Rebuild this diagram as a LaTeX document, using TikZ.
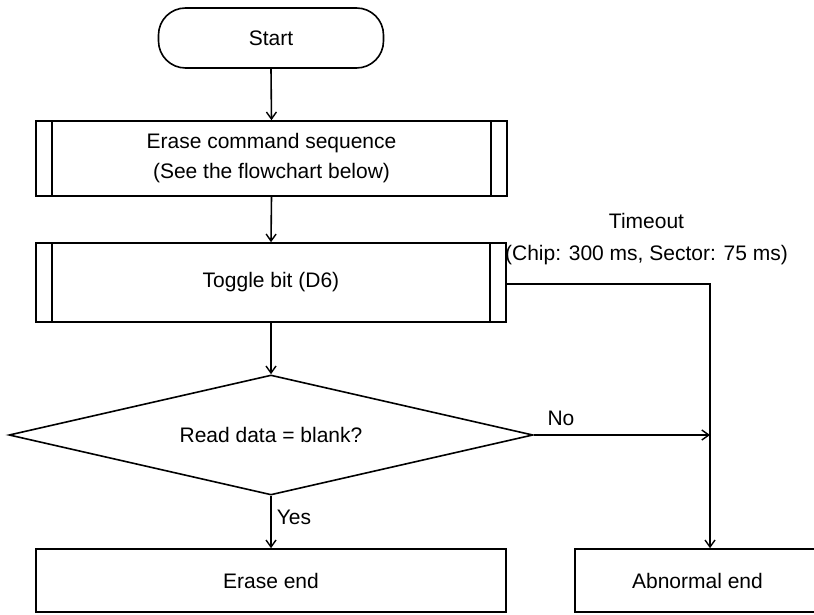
\documentclass[tikz,border=0pt]{standalone}
\usepackage{fontspec}
\setmainfont{Liberation Sans}
\usetikzlibrary{arrows.meta,shapes.geometric}
\begin{document}
\begin{tikzpicture}[x=1pt,y=1pt,
  font=\fontsize{21}{30}\selectfont,
  line width=1.6pt,
  arr/.style={-{Straight Barb[length=7pt,width=10pt,line width=1.4pt]}},
  box/.style={draw, rectangle, inner sep=0pt, align=center},
  lbl/.style={inner sep=0pt}]
\useasboundingbox (0,0) rectangle (814,614);
% nodes
\node[draw, rounded corners=27pt, minimum width=225pt, minimum height=60pt] (start) at (271,576) {Start};
\node[box, minimum width=471pt, minimum height=75pt] (erase) at (271.5,455.5) {Erase command sequence\\(See the flowchart below)};
\node[box, minimum width=470pt, minimum height=79pt] (toggle) at (271,331.5) {Toggle bit (D6)};
\node[draw, diamond, aspect=4.37, minimum width=524pt, minimum height=120pt, inner sep=0pt] (dec) at (271,179) {Read data = blank?};
\node[box, minimum width=470pt, minimum height=63pt] (eend) at (271,33.5) {Erase end};
\node[box, minimum width=245pt, minimum height=63pt] (abn) at (697.5,33.5) {Abnormal end};
% predefined-process side lines
\foreach \n in {erase,toggle}{
  \draw ([xshift=17pt]\n.north west) -- ([xshift=17pt]\n.south west);
  \draw ([xshift=-17pt]\n.north east) -- ([xshift=-17pt]\n.south east);
}
% labels
\node[lbl, align=center, font=\fontsize{21}{32}\selectfont] (tmo) at (646.5,375) {Timeout\\(Chip: 300 ms, Sector: 75 ms)};
\node[lbl, anchor=west] (yes) at (276,97) {Yes};
\node[lbl] (no) at (561,196) {No};
\coordinate (tc) at (710,330);
% connectors
\draw[arr] (start.south) -- (erase.north);
\draw[arr] (erase.south) -- (toggle.north);
\draw[arr] (toggle.south) -- (dec.north);
\draw[arr] (dec.south) -- (eend.north);
\draw[arr] (toggle.east |- tc) -- (tc) -- (tc |- abn.north);
\draw[arr] (dec.east) -- (dec.east -| tc);
\end{tikzpicture}
\end{document}
